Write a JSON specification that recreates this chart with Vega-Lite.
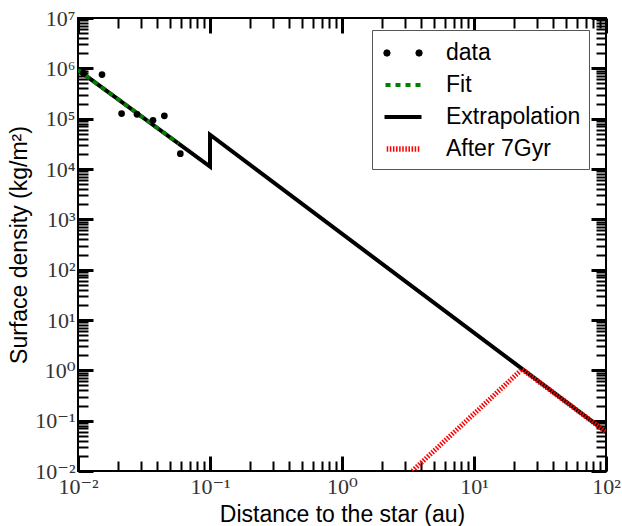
{
  "$schema": "https://vega.github.io/schema/vega-lite/v6.json",
  "width": 528,
  "height": 453,
  "autosize": {"type": "none"},
  "padding": {"left": 78, "top": 18, "right": 16, "bottom": 55},
  "background": "white",
  "config": {
    "view": {"stroke": "black", "strokeWidth": 2},
    "axis": {
      "grid": false,
      "domain": false,
      "ticks": true,
      "tickOpacity": 1,
      "tickColor": "black",
      "zindex": 2,
      "labelFont": "Liberation Serif, DejaVu Serif",
      "labelFontSize": 22,
      "labelColor": "#333",
      "labelOverlap": false,
      "labelFlush": false,
      "labelBound": false,
      "titleFont": "Liberation Sans",
      "titleFontSize": 23,
      "titleFontWeight": "normal",
      "titleColor": "black"
    }
  },
  "data": {
    "values": [
      {"series": "data", "x": 0.0110, "y": 800000, "i": 0},
      {"series": "data", "x": 0.0152, "y": 750000, "i": 1},
      {"series": "data", "x": 0.0214, "y": 126000, "i": 2},
      {"series": "data", "x": 0.0280, "y": 122000, "i": 3},
      {"series": "data", "x": 0.0370, "y": 93000, "i": 4},
      {"series": "data", "x": 0.0451, "y": 114000, "i": 5},
      {"series": "data", "x": 0.0596, "y": 20200, "i": 6},
      {"series": "Fit", "x": 0.01, "y": 930000, "i": 0},
      {"series": "Fit", "x": 0.0578, "y": 32000, "i": 1},
      {"series": "Extrapolation", "x": 0.01, "y": 930000, "i": 0},
      {"series": "Extrapolation", "x": 0.1, "y": 11200, "i": 1},
      {"series": "Extrapolation", "x": 0.1, "y": 48000, "i": 2},
      {"series": "Extrapolation", "x": 100, "y": 0.060, "i": 3},
      {"series": "After 7Gyr", "x": 3.41, "y": 0.01, "i": 0},
      {"series": "After 7Gyr", "x": 23.1, "y": 1.05, "i": 1},
      {"series": "After 7Gyr", "x": 100, "y": 0.060, "i": 2}
    ]
  },
  "layer": [
    {
      "transform": [{"filter": "datum.series === 'Extrapolation'"}],
      "mark": {"type": "line", "color": "black", "strokeWidth": 4, "clip": true},
      "encoding": {
        "x": {
          "field": "x", "type": "quantitative",
          "scale": {"type": "log", "domain": [0.01, 100], "nice": false},
          "axis": {
            "orient": "bottom",
            "values": [0.01, 0.1, 1, 10, 100],
            "offset": -15, "tickSize": 15, "tickWidth": 3, "labelPadding": 5,
            "labelExpr": "'10' + ['⁻²','⁻¹','⁰','¹','²','³','⁴','⁵','⁶','⁷'][round(log(datum.value)/LN10)+2]",
            "title": "Distance to the star (au)",
            "titlePadding": 6
          }
        },
        "y": {
          "field": "y", "type": "quantitative",
          "scale": {"type": "log", "domain": [0.01, 10000000], "nice": false},
          "axis": {
            "orient": "left",
            "values": [0.01, 0.1, 1, 10, 100, 1000, 10000, 100000, 1000000, 10000000],
            "offset": -15, "tickSize": 15, "tickWidth": 3, "labelPadding": 3,
            "labelExpr": "'10' + ['⁻²','⁻¹','⁰','¹','²','³','⁴','⁵','⁶','⁷'][round(log(datum.value)/LN10)+2]",
            "title": "Surface density (kg/m²)",
            "titlePadding": 3
          }
        },
        "order": {"field": "i", "type": "quantitative"}
      }
    },
    {
      "transform": [{"filter": "datum.series === 'Fit'"}],
      "mark": {"type": "line", "color": "#008000", "strokeWidth": 4, "strokeDash": [5, 4.5], "clip": true},
      "encoding": {
        "x": {
          "field": "x", "type": "quantitative",
          "scale": {"type": "log", "domain": [0.01, 100], "nice": false},
          "axis": {
            "orient": "bottom",
            "values": [0.02,0.03,0.04,0.05,0.06,0.07,0.08,0.09,0.2,0.3,0.4,0.5,0.6,0.7,0.8,0.9,2,3,4,5,6,7,8,9,20,30,40,50,60,70,80,90],
            "offset": -10, "tickSize": 10, "tickWidth": 2, "labels": false, "title": null
          }
        },
        "y": {
          "field": "y", "type": "quantitative",
          "scale": {"type": "log", "domain": [0.01, 10000000], "nice": false},
          "axis": {
            "orient": "left",
            "values": [0.02,0.03,0.04,0.05,0.06,0.07,0.08,0.09,0.2,0.3,0.4,0.5,0.6,0.7,0.8,0.9,2,3,4,5,6,7,8,9,20,30,40,50,60,70,80,90,200,300,400,500,600,700,800,900,2000,3000,4000,5000,6000,7000,8000,9000,20000,30000,40000,50000,60000,70000,80000,90000,200000,300000,400000,500000,600000,700000,800000,900000,2000000,3000000,4000000,5000000,6000000,7000000,8000000,9000000],
            "offset": -10, "tickSize": 10, "tickWidth": 2, "labels": false, "title": null
          }
        },
        "order": {"field": "i", "type": "quantitative"}
      }
    },
    {
      "transform": [{"filter": "datum.series === 'After 7Gyr'"}],
      "mark": {"type": "line", "color": "#ff0000", "strokeWidth": 5, "strokeDash": [1.5, 1.5], "clip": true},
      "encoding": {
        "x": {
          "field": "x", "type": "quantitative",
          "scale": {"type": "log", "domain": [0.01, 100], "nice": false},
          "axis": {
            "orient": "top",
            "values": [0.01, 0.1, 1, 10, 100],
            "offset": -15, "tickSize": 15, "tickWidth": 3, "labels": false, "title": null
          }
        },
        "y": {
          "field": "y", "type": "quantitative",
          "scale": {"type": "log", "domain": [0.01, 10000000], "nice": false},
          "axis": {
            "orient": "right",
            "values": [0.01, 0.1, 1, 10, 100, 1000, 10000, 100000, 1000000, 10000000],
            "offset": -15, "tickSize": 15, "tickWidth": 3, "labels": false, "title": null
          }
        },
        "order": {"field": "i", "type": "quantitative"}
      }
    },
    {
      "transform": [{"filter": "datum.series === 'data'"}],
      "mark": {"type": "point", "filled": true, "size": 45, "opacity": 1, "color": "black"},
      "encoding": {
        "x": {
          "field": "x", "type": "quantitative",
          "scale": {"type": "log", "domain": [0.01, 100], "nice": false},
          "axis": {
            "orient": "top",
            "values": [0.02,0.03,0.04,0.05,0.06,0.07,0.08,0.09,0.2,0.3,0.4,0.5,0.6,0.7,0.8,0.9,2,3,4,5,6,7,8,9,20,30,40,50,60,70,80,90],
            "offset": -10, "tickSize": 10, "tickWidth": 2, "labels": false, "title": null
          }
        },
        "y": {
          "field": "y", "type": "quantitative",
          "scale": {"type": "log", "domain": [0.01, 10000000], "nice": false},
          "axis": {
            "orient": "right",
            "values": [0.02,0.03,0.04,0.05,0.06,0.07,0.08,0.09,0.2,0.3,0.4,0.5,0.6,0.7,0.8,0.9,2,3,4,5,6,7,8,9,20,30,40,50,60,70,80,90,200,300,400,500,600,700,800,900,2000,3000,4000,5000,6000,7000,8000,9000,20000,30000,40000,50000,60000,70000,80000,90000,200000,300000,400000,500000,600000,700000,800000,900000,2000000,3000000,4000000,5000000,6000000,7000000,8000000,9000000],
            "offset": -10, "tickSize": 10, "tickWidth": 2, "labels": false, "title": null
          }
        }
      }
    },
    {
      "mark": {"type": "point", "filled": true, "size": 0, "opacity": 1, "strokeWidth": 0},
      "encoding": {
        "x": {
          "field": "x", "type": "quantitative",
          "scale": {"type": "log", "domain": [0.01, 100], "nice": false},
          "axis": null
        },
        "y": {
          "field": "y", "type": "quantitative",
          "scale": {"type": "log", "domain": [0.01, 10000000], "nice": false},
          "axis": null
        },
        "color": {
          "field": "series", "type": "nominal",
          "scale": {"domain": ["data", "Fit", "Extrapolation", "After 7Gyr"], "range": ["black", "#008000", "black", "#ff0000"]},
          "legend": {
            "title": null,
            "orient": "none",
            "legendX": 294,
            "legendY": 12,
            "padding": 8,
            "rowPadding": 5,
            "symbolSize": 900,
            "symbolOpacity": 1,
            "symbolStrokeWidth": 0,
            "labelOffset": 36,
            "labelFont": "Liberation Sans",
            "labelFontSize": 23,
            "labelColor": "black",
            "labelLimit": 300,
            "strokeColor": "#555",
            "fillColor": "white"
          }
        },
        "shape": {
          "field": "series", "type": "nominal",
          "scale": {
            "domain": ["data", "Fit", "Extrapolation", "After 7Gyr"],
            "range": [
              "M -0.287 0 L -0.36 0.177 L -0.537 0.25 L -0.714 0.177 L -0.787 0 L -0.714 -0.177 L -0.537 -0.25 L -0.36 -0.177 Z M 1.853 0 L 1.78 0.177 L 1.603 0.25 L 1.426 0.177 L 1.353 0 L 1.426 -0.177 L 1.603 -0.25 L 1.78 -0.177 Z",
              "M -0.634 -0.133 L -0.3 -0.133 L -0.3 0.133 L -0.634 0.133 Z M 0.033 -0.133 L 0.366 -0.133 L 0.366 0.133 L 0.033 0.133 Z M 0.7 -0.133 L 1.033 -0.133 L 1.033 0.133 L 0.7 0.133 Z M 1.366 -0.133 L 1.7 -0.133 L 1.7 0.133 L 1.366 0.133 Z",
              "M -0.7 -0.133 L 1.766 -0.133 L 1.766 0.133 L -0.7 0.133 Z",
              "M -0.552 -0.19 L -0.452 -0.19 L -0.452 0.19 L -0.552 0.19 Z M -0.345 -0.19 L -0.245 -0.19 L -0.245 0.19 L -0.345 0.19 Z M -0.138 -0.19 L -0.038 -0.19 L -0.038 0.19 L -0.138 0.19 Z M 0.069 -0.19 L 0.169 -0.19 L 0.169 0.19 L 0.069 0.19 Z M 0.276 -0.19 L 0.376 -0.19 L 0.376 0.19 L 0.276 0.19 Z M 0.483 -0.19 L 0.583 -0.19 L 0.583 0.19 L 0.483 0.19 Z M 0.69 -0.19 L 0.79 -0.19 L 0.79 0.19 L 0.69 0.19 Z M 0.897 -0.19 L 0.997 -0.19 L 0.997 0.19 L 0.897 0.19 Z M 1.104 -0.19 L 1.204 -0.19 L 1.204 0.19 L 1.104 0.19 Z M 1.311 -0.19 L 1.411 -0.19 L 1.411 0.19 L 1.311 0.19 Z M 1.518 -0.19 L 1.618 -0.19 L 1.618 0.19 L 1.518 0.19 Z"
            ]
          }
        }
      }
    }
  ],
  "resolve": {"axis": {"x": "independent", "y": "independent"}}
}
